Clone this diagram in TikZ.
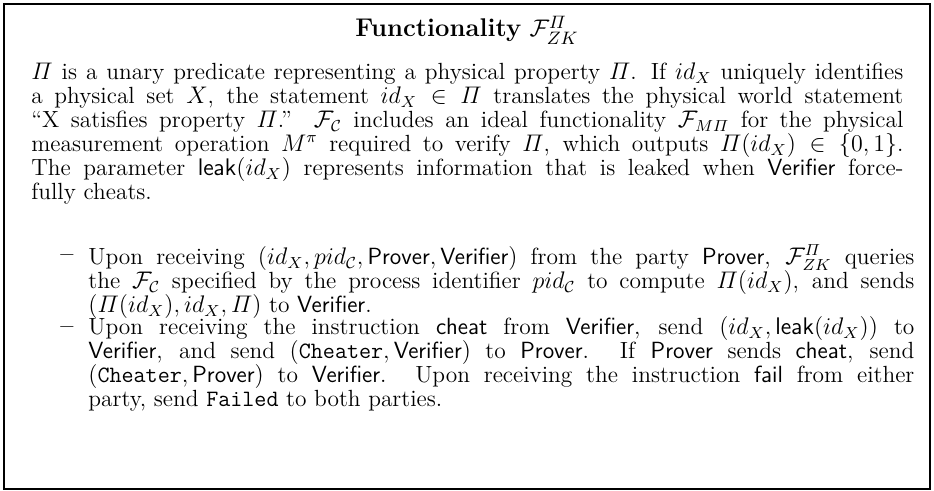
\documentclass[tikz,border=0pt]{standalone}
\usepackage{amsmath}
\newcommand{\bodyfont}{\fontsize{11.7}{12}\selectfont\lineskiplimit=-20pt\lineskip=0pt}
\begin{document}
\begin{tikzpicture}[
  x=1pt,y=1pt,
  every node/.style={font=\bodyfont},
  frame/.style={draw=black,line width=1.2pt},
  titletext/.style={anchor=base,inner sep=0pt,font=\fontsize{12.8}{14}\selectfont},
  para/.style={anchor=north west,inner sep=0pt,text width=436pt,align=justify},
  itemtext/.style={anchor=north west,inner sep=0pt,text width=413pt,align=justify},
  dashlabel/.style={anchor=north west,inner sep=0pt}
]
\useasboundingbox (0,0) rectangle (467,-245.5);
\draw[frame] (2,-2) rectangle (465,-244.5);
\node[titletext] (title) at (233.5,-18.5) {\textbf{Functionality} $\mathcal{F}^{\varPi}_{ZK}$};
\node[para] (intro) at (15.5,-31.2) {\strut$\varPi$ is a unary predicate representing a physical property $\varPi$. If $id_X$ uniquely identifies\linebreak
a physical set $X$, the statement $id_X \in \varPi$ translates the physical world statement\linebreak
``X satisfies property $\varPi$.'' $\mathcal{F}_{\mathcal{C}}$ includes an ideal functionality $\mathcal{F}_{M\varPi}$ for the physical\linebreak
measurement operation $M^{\pi}$ required to verify $\varPi$, which outputs $\varPi(id_X)\in\{0,1\}$.\linebreak
The parameter $\mathsf{leak}(id_X)$ represents information that is leaked when \textsf{Verifier} force-\linebreak
fully cheats.};
\node[dashlabel] (dashA) at (30,-122.2) {\strut\textbf{--}};
\node[itemtext] (itemA) at (44,-122.2) {\strut Upon receiving $(id_X, pid_{\mathcal{C}}, \textsf{Prover}, \textsf{Verifier})$ from the party \textsf{Prover}, $\mathcal{F}^{\varPi}_{ZK}$ queries\linebreak
the $\mathcal{F}_{\mathcal{C}}$ specified by the process identifier $pid_{\mathcal{C}}$ to compute $\varPi(id_X)$, and sends\linebreak
$(\varPi(id_X), id_X, \varPi)$ to \textsf{Verifier}.};
\node[dashlabel] (dashB) at (30,-158.2) {\strut\textbf{--}};
\node[itemtext] (itemB) at (44,-158.2) {\strut Upon receiving the instruction \textsf{cheat} from \textsf{Verifier}, send $(id_X, \mathsf{leak}(id_X))$ to\linebreak
\textsf{Verifier}, and send $(\texttt{Cheater}, \textsf{Verifier})$ to \textsf{Prover}. If \textsf{Prover} sends \textsf{cheat}, send\linebreak
$(\texttt{Cheater}, \textsf{Prover})$ to \textsf{Verifier}. Upon receiving the instruction \textsf{fail} from either\linebreak
party, send \texttt{Failed} to both parties.};
\end{tikzpicture}
\end{document}
